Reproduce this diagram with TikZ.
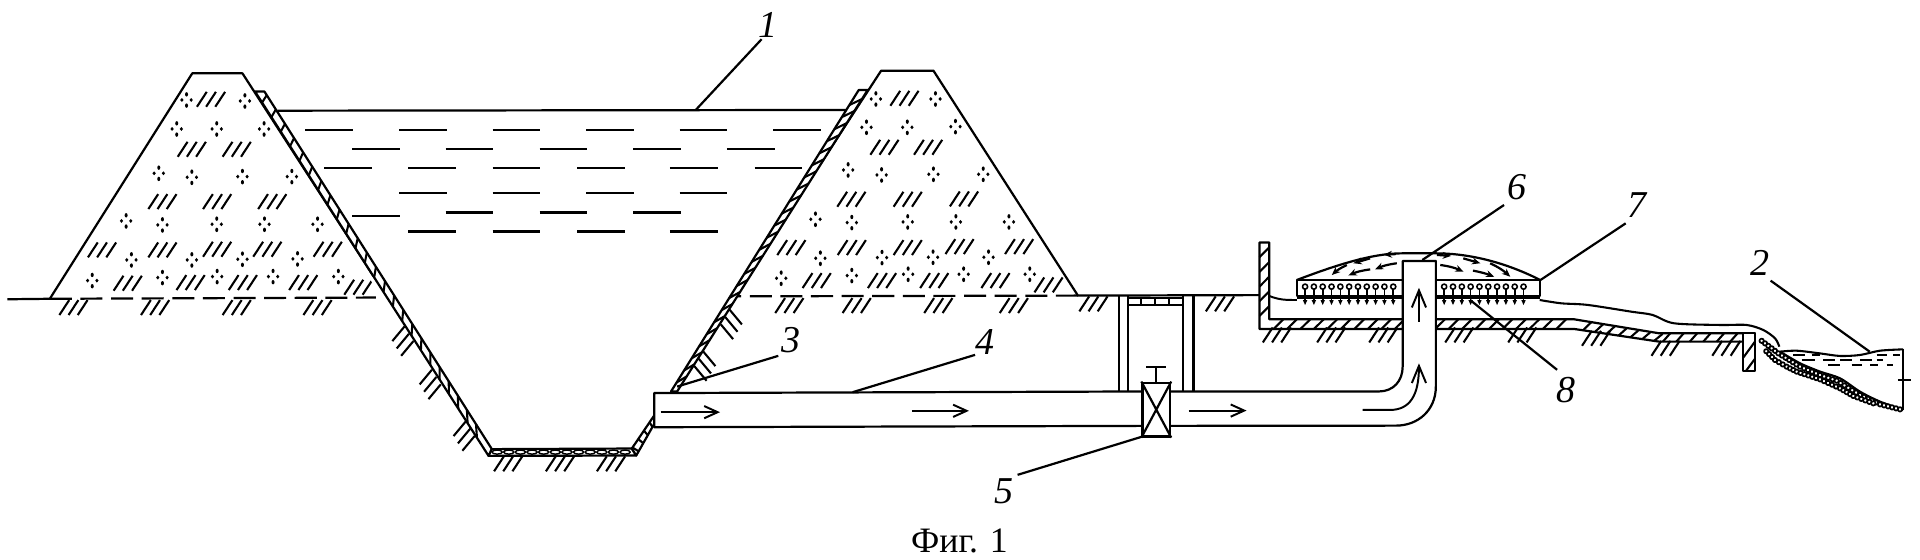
\documentclass[tikz,border=0pt]{standalone}
\usepackage{fontspec}
\setmainfont{Liberation Serif}
\usetikzlibrary{arrows.meta,calc}
\tikzset{
  thin line/.style={line width=0.85pt},
  lab/.style={font=\fontsize{15.5pt}{17pt}\selectfont\itshape,inner sep=0pt},
  cap text/.style={font=\fontsize{14.6pt}{16pt}\selectfont,inner sep=0pt,anchor=base},
  flow/.style={line width=0.8pt,-{Straight Barb[length=5.5pt,width=5pt]}},
  upflow/.style={line width=0.8pt,-{Straight Barb[length=7pt,width=5.8pt]}},
  spray/.style={line width=0.9pt,-{Stealth[length=3.4pt,width=2.8pt]}},
  hatchmark/.pic={\foreach \k in {-7.5,0,7.5}\draw[thin line] (\k-4,6.1)--(\k+4,-6.1);},
  dotmark/.pic={\fill (0,-4.6) ellipse [x radius=0.62pt,y radius=0.9pt];
    \fill (0,4.6) ellipse [x radius=0.62pt,y radius=0.9pt];
    \fill (-3.8,0) ellipse [x radius=0.68pt,y radius=0.8pt];
    \fill (3.8,0) ellipse [x radius=0.68pt,y radius=0.8pt];},
  lefthatch/.pic={\foreach \k in {-1,0,1}\draw[thin line] (3.6*\k+4,6*\k-5)--(3.6*\k-6,6*\k+7);},
  righthatch/.pic={\foreach \k in {-1,0,1}\draw[thin line] (-3.6*\k-4,6*\k-5)--(-3.6*\k+6,6*\k+7);},
  sprinkler/.pic={\draw[line width=0.65pt] (0,0) circle (1.05pt);
    \draw[line width=0.65pt] (0,2)--(0,11);
    \draw[line width=0.5pt] (-3,8)--(3,8);
    \fill (-1.8,11)--(1.8,11)--(0,15)--cycle;},
}
\begin{document}
\begin{tikzpicture}[x=0.5pt,y=-0.5pt,line width=0.9pt,line join=round]
\useasboundingbox (0,0) rectangle (1568,457.33);
\fill[white] (0,0) rectangle (1568,457.33);
% ---- water
\draw (226.7,90.4)--(691.3,89.8);
\foreach \y/\xs in {106.1/{249.3,326,402.3,478.7,555,631.6},
                    121.6/{287.7,364,440.7,517,593.6},
                    137.4/{265,333.3,402.3,471.3,547,616.3},
                    157.8/{326,402.3,478.7,555},
                    173.6/{364,440.7,517},
                    176.3/{287.7},
                    189.1/{333.3,402.3,471.3,547}}
  \foreach \x in \xs \draw (\x,\y)--++(39,0);
% ---- left dam
\draw (6,244.4)--(40.7,244)--(157,59.9)--(198,59.9)--(305,225.6);
\draw[dashed,dash pattern=on 9pt off 3.5pt] (40.7,244)--(307,243);
\begin{scope}
\clip (40.7,244)--(157,59.9)--(198,59.9)--(312,244)--cycle;
\foreach \a/\b in {517/178,470/328,580/328,398/485,532/485,667/485,250/630,398/630,532/628,655/628,803/628,313/730,467/728,595/728,743/728,878/742}
  \pic at ({\a/3},{32.67+\b/3.675}) {hatchmark};
\foreach \a/\b in {457/180,600/183,433/267,531/267,647/267,389/400,470/412,594/410,715/410,309/543,398/555,531/553,648/553,778/553,322/660,470/660,594/658,729/657,226/722,398/713,532/710,669/710,829/710}
  \pic at ({\a/3},{32.67+\b/3.675}) {dotmark};
\end{scope}
\foreach \a/\b in {180/803,380/803,580/803,778/803,1245/1272,1372/1272,1497/1272}
  \pic at ({\a/3},{32.67+\b/3.675}) {hatchmark};
\foreach \a/\b in {990/900,1057/1030,1140/1185}
  \pic at ({\a/3},{32.67+\b/3.675}) {lefthatch};
% left lining
\coordinate (la) at (208.3,74.8); \coordinate (lb) at (216,74.8);
\coordinate (lc) at (399,372.3);  \coordinate (ld) at (401.7,366.8);
\draw[fill=white] (la)--(lb)--(ld)--(lc)--cycle;
\foreach \t in {0.03,0.07,...,0.99}
  \draw[thin line] ($(la)!\t!(lc)$)--($(lb)!\t-0.02!(ld)$);
% bottom lining
\draw[fill=white] (lc)--(ld)--(516,366.3)--(519.6,372)--cycle;
\foreach \x in {406,415.5,...,516}
  \draw[line width=0.6pt,fill=white] (\x,369.2) ellipse [x radius=2.1pt,y radius=0.85pt];
% ---- right dam
\draw (599.6,242)--(719.6,57.7)--(762.3,57.7)--(880.3,241.4)--(1028.6,241);
\draw[dashed,dash pattern=on 9pt off 3.5pt] (880.3,241.4)--(599.6,242);
\begin{scope}
\clip (599.6,242)--(719.6,57.7)--(762.3,57.7)--(880.3,241.4)--cycle;
\foreach \a/\b in {697/175,648/322,755/322,567/478,705/478,843/477,420/623,568/623,705/623,832/620,978/620,482/722,642/722,770/722,920/722,1050/735}
  \pic at ({506.3+\a/3},{32.67+\b/3.675}) {hatchmark};
\foreach \a/\b in {627/177,773/177,604/262,704/262,822/260,559/390,641/405,768/403,890/403,479/538,568/548,705/546,823/546,953/546,491/655,642/653,767/652,903/652,395/715,568/707,706/703,842/703,1004/703}
  \pic at ({506.3+\a/3},{32.67+\b/3.675}) {dotmark};
\end{scope}
\foreach \a/\b in {415/797,580/797,780/797,965/797,1160/792,1470/792}
  \pic at ({506.3+\a/3},{32.67+\b/3.675}) {hatchmark};
\foreach \a/\b in {270/850,205/975}
  \pic at ({506.3+\a/3},{32.67+\b/3.675}) {righthatch};
% right lining
\coordinate (ra) at (701.3,73.5); \coordinate (rb) at (708.6,73.5);
\coordinate (rc) at (548,319.7);  \coordinate (rd) at (553,319.7);
\draw[fill=white] (ra)--(rb)--(rd)--(rc)--cycle;
\foreach \t in {0.03,0.07,...,0.99}
  \draw[thin line] ($(rb)!\t!(rd)$)--($(ra)!\t+0.02!(rc)$);
\coordinate (re) at (534.6,338.8); \coordinate (rf) at (534.6,345.6);
\coordinate (rg) at (516,366.3);   \coordinate (rh) at (519.6,372);
\draw[fill=white] (re)--(rf)--(rh)--(rg)--cycle;
\foreach \t in {0.12,0.37,0.62,0.87}
  \draw[thin line] ($(rf)!\t!(rh)$)--($(re)!\t+0.1!(rg)$);
% ---- well
\foreach \x in {913.6,921.3,966.3,974.6} \draw (\x,241.4)--(\x,320);
\draw (921.3,243.5)--(966.3,243.5) (921.3,249)--(966.3,249);
\foreach \x in {932,943,955} \draw[thin line] (\x,243.5)--(\x,249);
% ---- slab and walls
\draw[fill=white] (1028.6,198)--(1036.5,198)--(1036.5,260.8)--(1285.8,260.8)--(1355,272.2)--(1433,272.2)--(1428,279)--(1355,279)--(1285.8,268.7)--(1028.6,268.7)--cycle;
\foreach \y in {206,218,230,242,254} \draw[thin line] (1036.5,\y-4)--(1028.6,\y+4);
\foreach \x in {1040,1051,...,1280} \draw[thin line] (\x,268.7)--(\x+8,260.8);
\foreach \t in {0.1,0.24,...,0.95} \draw[thin line] ($(1285.8,268.7)!\t!(1355,279)$)--($(1285.8,260.8)!\t+0.1!(1355,272.2)$);
\foreach \x in {1358,1369,...,1425} \draw[thin line] (\x,279)--(\x+6,272.2);
\draw[fill=white] (1423.7,272.2) rectangle (1433.2,302.7);
\draw[thin line] (1423.7,292)--(1433.2,279) (1426,302.7)--(1433.2,293);
\foreach \a/\b in {85/525,210/525,330/525,505/525,650/525,820/535,980/565,1120/565}
  \pic at ({1012.7+\a/2.82},{130.7+\b/3.675}) {hatchmark};
% ---- spreading water
\draw[line width=0.8pt] (1036.5,241.7) .. controls (1045,245) and (1050,245) .. (1059,245);
\draw[line width=0.85pt] plot[smooth,tension=0.5] coordinates {(1257.4,245)(1275,247.7)(1296.4,249)(1332,254.5)(1349.6,257.2)(1367,264)(1404.7,265.4)(1426.4,265.4)(1440,269.5)(1449.6,276.3)(1453.1,283.1)};
\draw[line width=0.8pt] (1059,243.6)--(1145.5,243.6) (1172.6,243.6)--(1257.4,243.6);
% ---- dome and box
\draw (1059,228.7) .. controls (1100,213) and (1125,206.9) .. (1145,206.9)--(1173,206.9) .. controls (1195,206.9) and (1225,212) .. (1257.9,228.7);
\draw (1059,228.7) rectangle (1145.5,241.5) (1172.6,228.7) rectangle (1257.9,241.5);
\foreach \x in {1065.8,1073,...,1138} \pic at (\x,234.1) {sprinkler};
\foreach \x in {1179.4,1186.6,...,1251} \pic at (\x,234.1) {sprinkler};
\draw[spray] (1140.7,215) to[bend right=8] (1123,220);
\draw[spray] (1119,220) to[bend right=8] (1101.2,225);
\draw[spray] (1099.9,216.4) to[bend right=8] (1087.6,224.6);
\draw[spray] (1118.9,211)--(1105.3,215);
\draw[spray] (1140,207.5)--(1130,208);
\draw[spray] (1176.2,216.4) to[bend left=8] (1195.2,221.9);
\draw[spray] (1202.9,221) to[bend left=5] (1220.3,226);
\draw[spray] (1217,215) to[bend left=8] (1233.4,226);
\draw[spray] (1173.4,208.2)--(1185,209);
\draw[spray] (1195,211)--(1208.9,215);
% ---- pipe
\draw[fill=white] (534.3,321)--(933,319.7)--(933,347.8)--(534.3,348.9)--cycle;
\fill[white] (1145.5,213)--(1172.6,213)--(1172.6,320)--(1140,347)--(955,347)--(955,320)--(1126,320)--(1145.5,300)--cycle;
\draw (955.6,319.7)--(1126,319.7) .. controls (1138,319.7) and (1145.5,311) .. (1145.5,299.4)--(1145.5,213.1)--(1172.6,213.1)--(1172.6,315.7) .. controls (1172.6,335) and (1158,347.6) .. (1140,347.6)--(955.6,347.8);
\draw[flow] (539.6,336.6)--(588,336.6);
\draw[flow] (744.6,335.5)--(791.3,335.5);
\draw[flow] (970.6,335.3)--(1018,335.3);
\draw[upflow] (1158.8,262.7)--(1158.8,235);
\draw[upflow] (1112.7,334.8)--(1135,334.8) .. controls (1152,334.8) and (1158.8,322) .. (1158.8,296.7);
% ---- valve
\node[draw,fill=white,minimum width=11.3pt,minimum height=22pt,inner sep=0pt] (valve) at (944.3,334.5) {};
\draw (valve.south west)--(valve.north east) (valve.north west)--(valve.south east);
\coordinate (stemtop) at (944.3,299.9);
\draw (valve.north)--(stemtop) (936,299.9)--(952.3,299.9);
% ---- outlet stream
\draw[line width=0.85pt] plot[smooth,tension=0.5] coordinates {(1453.6,287.2)(1467.3,286.4)(1486.3,288.6)(1502.7,290.7)(1519,289.9)(1535.3,286.4)(1554.3,285.3)};
\draw (1554.3,285.3)--(1554.3,334.8);
\draw (1550,310.3)--(1561,310.3);
\draw plot[smooth,tension=0.5] coordinates {(1453.6,287.2)(1470,296.7)(1486.3,303.5)(1502.7,309)(1519,319.9)(1535.3,328)(1554.3,334.8)};
\foreach \xa/\ya/\xb/\yb/\n in {115/85/175/130/6,175/130/240/170/6,240/170/300/195/5,300/195/350/212/4,350/212/420/255/6,420/255/480/283/5,480/283/540/298/5,130/115/165/150/4,165/150/200/170/3,200/170/230/185/3,230/185/300/208/6,300/208/360/235/5,360/235/400/258/4,400/258/460/280/5}
  \foreach \i in {1,...,\n}
    \draw[line width=0.7pt,fill=white] ({(1720+(\xa+(\xb-\xa)*\i/\n)/3)/1.2245},{(310+(\ya+(\yb-\ya)*\i/\n)/3)/1.2245}) circle (0.9pt);
\foreach \y/\xs in {135/{220/255,275/300,470/500,520/540},150/{245/285,310/345,360/395,420/455,470/490},165/{325/360,395/425,450/475,500/520}}
  \foreach \p/\q in \xs \draw[line width=0.8pt] ({(1720+\p/3)/1.2245},{(310+\y/3)/1.2245})--({(1720+\q/3)/1.2245},{(310+\y/3)/1.2245});
% ---- labels and leaders
\node[lab] (n1) at (627,20) {1};
\node[lab] (n2) at (1437,214.5) {2};
\node[lab] (n3) at (646,277.6) {3};
\node[lab] (n4) at (804,279) {4};
\node[lab] (n5) at (820,401) {5};
\node[lab] (n6) at (1239,153) {6};
\node[lab] (n7) at (1337,167.4) {7};
\node[lab] (n8) at (1278.7,318.5) {8};
\node[cap text] (cap) at (783.6,451) {Фиг. 1};
\coordinate (e1) at (568,90);     \coordinate (f1) at (622,32);
\coordinate (e2) at (1526.9,287.2); \coordinate (f2) at (1446,229.2);
\coordinate (e3) at (553,315.7);  \coordinate (f3) at (635.6,290.6);
\coordinate (e4) at (696.3,320.3);\coordinate (f4) at (796.3,289.8);
\coordinate (e5) at (933,356.5);  \coordinate (f5) at (831,387.8);
\coordinate (e6) at (1161.6,212.3);\coordinate (f6) at (1228.3,167.4);
\coordinate (e7) at (1258,228.7); \coordinate (f7) at (1327.6,182.4);
\coordinate (e8) at (1200.6,245); \coordinate (f8) at (1271.6,302);
\foreach \i in {1,...,8} \draw (e\i)--(f\i);
\end{tikzpicture}
\end{document}
